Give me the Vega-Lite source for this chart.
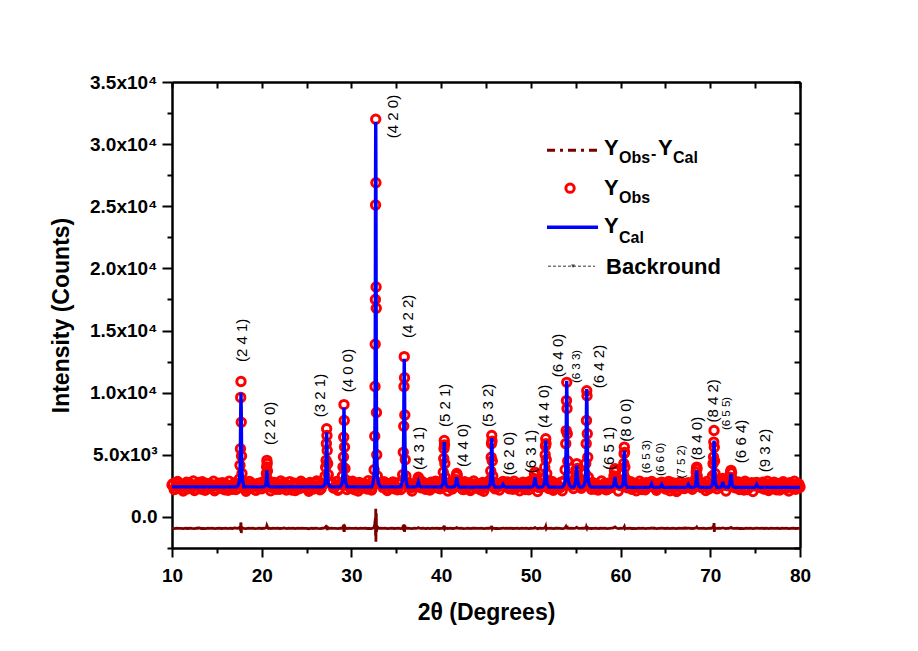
{
"$schema": "https://vega.github.io/schema/vega-lite/v6.json",
"width": 628, "height": 466,
"autosize": {"type": "none"},
"padding": {"left": 172, "top": 82, "right": 118, "bottom": 103},
"background": "white",
"config": {"view": {"stroke": null}, "font": "Liberation Sans"},
"datasets": {
"xrd": [
{"tt":10,"obs":2570,"cal":2420,"diff":-905},{"tt":10.25,"obs":2200,"cal":2420,"diff":-935},{"tt":10.5,"obs":2730,"cal":2420,"diff":-900},{"tt":10.75,"obs":2330,"cal":2420,"diff":-925},{"tt":11,"obs":2460,"cal":2420,"diff":-915},{"tt":11.25,"obs":2080,"cal":2420,"diff":-945},{"tt":11.5,"obs":2620,"cal":2420,"diff":-910},{"tt":11.75,"obs":2260,"cal":2420,"diff":-930},{"tt":12,"obs":2690,"cal":2420,"diff":-895},{"tt":12.25,"obs":2390,"cal":2420,"diff":-920},{"tt":12.5,"obs":2130,"cal":2420,"diff":-940},{"tt":12.75,"obs":2520,"cal":2420,"diff":-910},{"tt":13,"obs":2770,"cal":2420,"diff":-890},{"tt":13.25,"obs":2240,"cal":2420,"diff":-930},{"tt":13.5,"obs":2440,"cal":2420,"diff":-920},{"tt":13.75,"obs":2170,"cal":2420,"diff":-945},{"tt":14,"obs":2650,"cal":2420,"diff":-905},{"tt":14.25,"obs":2350,"cal":2420,"diff":-925},{"tt":14.5,"obs":2580,"cal":2420,"diff":-900},{"tt":14.75,"obs":2100,"cal":2420,"diff":-940},{"tt":15,"obs":2500,"cal":2420,"diff":-915},{"tt":15.25,"obs":2710,"cal":2420,"diff":-895},{"tt":15.5,"obs":2280,"cal":2420,"diff":-930},{"tt":15.75,"obs":2380,"cal":2420,"diff":-920},{"tt":16,"obs":2630,"cal":2420,"diff":-905},{"tt":16.25,"obs":2150,"cal":2420,"diff":-940},{"tt":16.5,"obs":2540,"cal":2420,"diff":-910},{"tt":16.75,"obs":2220,"cal":2420,"diff":-930},{"tt":17,"obs":2750,"cal":2420,"diff":-890},{"tt":17.25,"obs":2310,"cal":2420,"diff":-925},
{"tt":17.39,"obs":2650,"cal":2572,"diff":-900},{"tt":17.51,"obs":3050,"cal":2875,"diff":-880},{"tt":17.58,"obs":4150,"cal":3709,"diff":-800},{"tt":17.63,"obs":5490,"cal":5831,"diff":-1100},{"tt":17.66,"obs":9620,"cal":8484,"diff":-600},{"tt":17.69,"obs":10900,"cal":10000,"diff":-450},{"tt":17.72,"obs":7620,"cal":8484,"diff":-1300},{"tt":17.75,"obs":4900,"cal":5831,"diff":-1000},{"tt":17.8,"obs":3500,"cal":3709,"diff":-850},{"tt":17.87,"obs":2800,"cal":2875,"diff":-930},{"tt":17.99,"obs":2300,"cal":2572,"diff":-910},
{"tt":18,"obs":2480,"cal":2420,"diff":-915},{"tt":18.25,"obs":2060,"cal":2420,"diff":-940},{"tt":18.5,"obs":2600,"cal":2420,"diff":-905},{"tt":18.75,"obs":2370,"cal":2420,"diff":-925},{"tt":19,"obs":2670,"cal":2420,"diff":-900},{"tt":19.25,"obs":2190,"cal":2420,"diff":-935},{"tt":19.5,"obs":2430,"cal":2420,"diff":-920},{"tt":19.75,"obs":2720,"cal":2420,"diff":-895},{"tt":20,"obs":2270,"cal":2420,"diff":-930},{"tt":20.25,"obs":2510,"cal":2420,"diff":-910},
{"tt":20.28,"obs":2500,"cal":2447,"diff":-920},{"tt":20.4,"obs":2650,"cal":2500,"diff":-900},{"tt":20.47,"obs":2950,"cal":2646,"diff":-880},{"tt":20.52,"obs":3500,"cal":3019,"diff":-850},{"tt":20.55,"obs":4015,"cal":3484,"diff":-800},{"tt":20.58,"obs":4550,"cal":3750,"diff":-700},{"tt":20.61,"obs":4300,"cal":3484,"diff":-750},{"tt":20.64,"obs":3700,"cal":3019,"diff":-850},{"tt":20.69,"obs":3000,"cal":2646,"diff":-900},{"tt":20.76,"obs":2600,"cal":2500,"diff":-930},{"tt":20.88,"obs":2450,"cal":2447,"diff":-910},
{"tt":21,"obs":2110,"cal":2420,"diff":-935},{"tt":21.25,"obs":2590,"cal":2420,"diff":-905},{"tt":21.5,"obs":2340,"cal":2420,"diff":-920},{"tt":21.75,"obs":2680,"cal":2420,"diff":-900},{"tt":22,"obs":2230,"cal":2420,"diff":-930},{"tt":22.25,"obs":2450,"cal":2420,"diff":-915},{"tt":22.5,"obs":2760,"cal":2420,"diff":-890},{"tt":22.75,"obs":2160,"cal":2420,"diff":-940},{"tt":23,"obs":2530,"cal":2420,"diff":-910},{"tt":23.25,"obs":2400,"cal":2420,"diff":-920},{"tt":23.5,"obs":2640,"cal":2420,"diff":-900},{"tt":23.75,"obs":2120,"cal":2420,"diff":-945},{"tt":24,"obs":2560,"cal":2420,"diff":-905},{"tt":24.25,"obs":2300,"cal":2420,"diff":-925},{"tt":24.5,"obs":2700,"cal":2420,"diff":-895},{"tt":24.75,"obs":2360,"cal":2420,"diff":-920},{"tt":25,"obs":2470,"cal":2420,"diff":-915},{"tt":25.25,"obs":2070,"cal":2420,"diff":-950},{"tt":25.5,"obs":2610,"cal":2420,"diff":-905},{"tt":25.75,"obs":2250,"cal":2420,"diff":-930},{"tt":26,"obs":2740,"cal":2420,"diff":-895},{"tt":26.25,"obs":2410,"cal":2420,"diff":-920},{"tt":26.5,"obs":2180,"cal":2420,"diff":-935},{"tt":26.75,"obs":2550,"cal":2420,"diff":-910},
{"tt":26.94,"obs":2700,"cal":2508,"diff":-900},{"tt":27.06,"obs":3300,"cal":2684,"diff":-850},{"tt":27.13,"obs":3990,"cal":3168,"diff":-800},{"tt":27.18,"obs":4550,"cal":4400,"diff":-900},{"tt":27.21,"obs":5900,"cal":5940,"diff":-750},{"tt":27.24,"obs":7100,"cal":6820,"diff":-700},{"tt":27.27,"obs":6550,"cal":5940,"diff":-950},{"tt":27.3,"obs":5350,"cal":4400,"diff":-1050},{"tt":27.35,"obs":4300,"cal":3168,"diff":-900},{"tt":27.42,"obs":3400,"cal":2684,"diff":-880},{"tt":27.54,"obs":2750,"cal":2508,"diff":-920},
{"tt":27.75,"obs":2660,"cal":2420,"diff":-905},{"tt":28,"obs":2320,"cal":2420,"diff":-925},{"tt":28.25,"obs":2490,"cal":2420,"diff":-915},{"tt":28.5,"obs":2140,"cal":2420,"diff":-940},{"tt":28.75,"obs":2620,"cal":2420,"diff":-900},
{"tt":28.87,"obs":2700,"cal":2548,"diff":-920},{"tt":28.99,"obs":3300,"cal":2803,"diff":-880},{"tt":29.06,"obs":4010,"cal":3505,"diff":-850},{"tt":29.11,"obs":4820,"cal":5291,"diff":-700},{"tt":29.14,"obs":6420,"cal":7524,"diff":-1150},{"tt":29.17,"obs":9040,"cal":8800,"diff":-600},{"tt":29.2,"obs":7760,"cal":7524,"diff":-1200},{"tt":29.23,"obs":5620,"cal":5291,"diff":-900},{"tt":29.28,"obs":3900,"cal":3505,"diff":-800},{"tt":29.35,"obs":3000,"cal":2803,"diff":-900},{"tt":29.47,"obs":2550,"cal":2548,"diff":-920},
{"tt":29.5,"obs":2210,"cal":2420,"diff":-935},{"tt":29.75,"obs":2780,"cal":2420,"diff":-895},{"tt":30,"obs":2290,"cal":2420,"diff":-925},{"tt":30.25,"obs":2420,"cal":2420,"diff":-920},{"tt":30.5,"obs":2690,"cal":2420,"diff":-900},{"tt":30.75,"obs":2090,"cal":2420,"diff":-945},{"tt":31,"obs":2570,"cal":2420,"diff":-910},{"tt":31.25,"obs":2360,"cal":2420,"diff":-920},{"tt":31.5,"obs":2650,"cal":2420,"diff":-905},{"tt":31.75,"obs":2240,"cal":2420,"diff":-930},{"tt":32,"obs":2510,"cal":2420,"diff":-915},{"tt":32.25,"obs":2160,"cal":2420,"diff":-940},
{"tt":32.41,"obs":2900,"cal":2714,"diff":-900},{"tt":32.53,"obs":3800,"cal":3301,"diff":-800},{"tt":32.6,"obs":6500,"cal":5358,"diff":-600},{"tt":32.63,"obs":10500,"cal":8296,"diff":-300},{"tt":32.65,"obs":13900,"cal":12115,"diff":-400},{"tt":32.67,"obs":17500,"cal":18579,"diff":-100},{"tt":32.69,"obs":25100,"cal":27393,"diff":-1500},{"tt":32.71,"obs":32000,"cal":31800,"diff":650},{"tt":32.73,"obs":26900,"cal":27393,"diff":-2000},{"tt":32.75,"obs":18500,"cal":18579,"diff":-400},{"tt":32.77,"obs":16800,"cal":12115,"diff":300},{"tt":32.79,"obs":8400,"cal":8296,"diff":-1200},{"tt":32.82,"obs":5000,"cal":5358,"diff":-1000},{"tt":32.89,"obs":3300,"cal":3301,"diff":-800},{"tt":33.01,"obs":2700,"cal":2714,"diff":-920},
{"tt":33.25,"obs":2730,"cal":2420,"diff":-900},{"tt":33.5,"obs":2380,"cal":2420,"diff":-920},{"tt":33.75,"obs":2590,"cal":2420,"diff":-910},{"tt":34,"obs":2120,"cal":2420,"diff":-940},{"tt":34.25,"obs":2480,"cal":2420,"diff":-915},{"tt":34.5,"obs":2670,"cal":2420,"diff":-900},{"tt":34.75,"obs":2270,"cal":2420,"diff":-930},{"tt":35,"obs":2330,"cal":2420,"diff":-925},{"tt":35.25,"obs":2750,"cal":2420,"diff":-895},{"tt":35.5,"obs":2200,"cal":2420,"diff":-935},
{"tt":35.59,"obs":2800,"cal":2626,"diff":-920},{"tt":35.71,"obs":3400,"cal":3038,"diff":-880},{"tt":35.78,"obs":5200,"cal":4171,"diff":-700},{"tt":35.83,"obs":7300,"cal":7055,"diff":-1100},{"tt":35.86,"obs":10500,"cal":10660,"diff":-600},{"tt":35.89,"obs":12900,"cal":12720,"diff":-800},{"tt":35.92,"obs":11200,"cal":10660,"diff":-1200},{"tt":35.95,"obs":8200,"cal":7055,"diff":-700},{"tt":36,"obs":4600,"cal":4171,"diff":-850},{"tt":36.07,"obs":3300,"cal":3038,"diff":-900},{"tt":36.19,"obs":2600,"cal":2626,"diff":-920},
{"tt":36.25,"obs":2540,"cal":2420,"diff":-910},{"tt":36.5,"obs":2440,"cal":2420,"diff":-920},{"tt":36.75,"obs":2080,"cal":2420,"diff":-945},{"tt":37,"obs":2630,"cal":2420,"diff":-900},
{"tt":37.21,"obs":2500,"cal":2439,"diff":-920},{"tt":37.34,"obs":2800,"cal":2515,"diff":-910},{"tt":37.4,"obs":3000,"cal":2648,"diff":-880},{"tt":37.46,"obs":3200,"cal":2800,"diff":-860},{"tt":37.52,"obs":3050,"cal":2648,"diff":-890},{"tt":37.58,"obs":2750,"cal":2515,"diff":-910},{"tt":37.71,"obs":2450,"cal":2439,"diff":-920},
{"tt":37.75,"obs":2350,"cal":2420,"diff":-925},{"tt":38,"obs":2700,"cal":2420,"diff":-900},{"tt":38.25,"obs":2230,"cal":2420,"diff":-935},{"tt":38.5,"obs":2520,"cal":2420,"diff":-910},{"tt":38.75,"obs":2170,"cal":2420,"diff":-940},{"tt":39,"obs":2580,"cal":2420,"diff":-905},{"tt":39.25,"obs":2390,"cal":2420,"diff":-920},{"tt":39.5,"obs":2720,"cal":2420,"diff":-895},{"tt":39.75,"obs":2300,"cal":2420,"diff":-930},{"tt":40,"obs":2440,"cal":2400,"diff":-915},
{"tt":40.05,"obs":2600,"cal":2472,"diff":-920},{"tt":40.17,"obs":2950,"cal":2617,"diff":-900},{"tt":40.24,"obs":3600,"cal":3015,"diff":-850},{"tt":40.29,"obs":4700,"cal":4029,"diff":-900},{"tt":40.32,"obs":5500,"cal":5296,"diff":-800},{"tt":40.35,"obs":6150,"cal":6020,"diff":-700},{"tt":40.38,"obs":5800,"cal":5296,"diff":-850},{"tt":40.41,"obs":4300,"cal":4029,"diff":-950},{"tt":40.46,"obs":3200,"cal":3015,"diff":-900},{"tt":40.53,"obs":2700,"cal":2617,"diff":-920},{"tt":40.65,"obs":2450,"cal":2472,"diff":-910},
{"tt":40.75,"obs":2090,"cal":2400,"diff":-940},{"tt":41,"obs":2640,"cal":2400,"diff":-905},{"tt":41.25,"obs":2240,"cal":2400,"diff":-930},
{"tt":41.49,"obs":2550,"cal":2440,"diff":-920},{"tt":41.62,"obs":3000,"cal":2600,"diff":-900},{"tt":41.68,"obs":3300,"cal":2880,"diff":-880},{"tt":41.74,"obs":3500,"cal":3200,"diff":-860},{"tt":41.8,"obs":3350,"cal":2880,"diff":-880},{"tt":41.86,"obs":2950,"cal":2600,"diff":-900},{"tt":41.99,"obs":2500,"cal":2440,"diff":-920},
{"tt":42,"obs":2480,"cal":2400,"diff":-915},{"tt":42.25,"obs":2750,"cal":2400,"diff":-895},{"tt":42.5,"obs":2200,"cal":2400,"diff":-935},{"tt":42.75,"obs":2350,"cal":2400,"diff":-925},{"tt":43,"obs":2590,"cal":2400,"diff":-905},{"tt":43.25,"obs":2130,"cal":2400,"diff":-940},{"tt":43.5,"obs":2530,"cal":2400,"diff":-910},{"tt":43.75,"obs":2660,"cal":2400,"diff":-900},{"tt":44,"obs":2300,"cal":2400,"diff":-925},{"tt":44.25,"obs":2380,"cal":2400,"diff":-920},{"tt":44.5,"obs":2620,"cal":2400,"diff":-905},{"tt":44.75,"obs":2070,"cal":2400,"diff":-945},{"tt":45,"obs":2470,"cal":2400,"diff":-915},{"tt":45.25,"obs":2690,"cal":2400,"diff":-895},
{"tt":45.34,"obs":2550,"cal":2479,"diff":-910},{"tt":45.46,"obs":3000,"cal":2638,"diff":-900},{"tt":45.53,"obs":3700,"cal":3075,"diff":-860},{"tt":45.58,"obs":4800,"cal":4187,"diff":-880},{"tt":45.61,"obs":5900,"cal":5576,"diff":-800},{"tt":45.64,"obs":6550,"cal":6370,"diff":-720},{"tt":45.67,"obs":6100,"cal":5576,"diff":-860},{"tt":45.7,"obs":4500,"cal":4187,"diff":-960},{"tt":45.75,"obs":3300,"cal":3075,"diff":-900},{"tt":45.82,"obs":2700,"cal":2638,"diff":-920},{"tt":45.94,"obs":2500,"cal":2479,"diff":-915},
{"tt":46,"obs":2260,"cal":2400,"diff":-930},{"tt":46.25,"obs":2410,"cal":2400,"diff":-920},{"tt":46.5,"obs":2170,"cal":2400,"diff":-935},
{"tt":46.65,"obs":2500,"cal":2410,"diff":-920},{"tt":46.78,"obs":2700,"cal":2450,"diff":-915},{"tt":46.84,"obs":2800,"cal":2520,"diff":-905},{"tt":46.9,"obs":2850,"cal":2600,"diff":-900},{"tt":46.96,"obs":2750,"cal":2520,"diff":-905},{"tt":47.02,"obs":2600,"cal":2450,"diff":-915},{"tt":47.15,"obs":2450,"cal":2410,"diff":-920},
{"tt":47.25,"obs":2580,"cal":2400,"diff":-905},{"tt":47.5,"obs":2320,"cal":2400,"diff":-925},{"tt":47.75,"obs":2720,"cal":2400,"diff":-895},{"tt":48,"obs":2220,"cal":2400,"diff":-930},{"tt":48.25,"obs":2450,"cal":2400,"diff":-915},{"tt":48.5,"obs":2640,"cal":2400,"diff":-900},{"tt":48.75,"obs":2110,"cal":2400,"diff":-940},{"tt":49,"obs":2550,"cal":2400,"diff":-910},{"tt":49.25,"obs":2360,"cal":2400,"diff":-920},{"tt":49.5,"obs":2670,"cal":2400,"diff":-900},{"tt":49.75,"obs":2190,"cal":2400,"diff":-935},{"tt":50,"obs":2510,"cal":2400,"diff":-910},
{"tt":50.21,"obs":2650,"cal":2440,"diff":-920},{"tt":50.34,"obs":3100,"cal":2600,"diff":-900},{"tt":50.4,"obs":3450,"cal":2880,"diff":-870},{"tt":50.46,"obs":3610,"cal":3200,"diff":-850},{"tt":50.52,"obs":3400,"cal":2880,"diff":-880},{"tt":50.58,"obs":2950,"cal":2600,"diff":-905},{"tt":50.71,"obs":2550,"cal":2440,"diff":-920},
{"tt":50.75,"obs":2050,"cal":2400,"diff":-945},{"tt":51,"obs":2600,"cal":2400,"diff":-905},{"tt":51.25,"obs":2430,"cal":2400,"diff":-920},
{"tt":51.36,"obs":2650,"cal":2475,"diff":-920},{"tt":51.48,"obs":3100,"cal":2625,"diff":-890},{"tt":51.55,"obs":4000,"cal":3038,"diff":-850},{"tt":51.6,"obs":5000,"cal":4088,"diff":-880},{"tt":51.63,"obs":5700,"cal":5400,"diff":-820},{"tt":51.66,"obs":6290,"cal":6150,"diff":-760},{"tt":51.69,"obs":5900,"cal":5400,"diff":-870},{"tt":51.72,"obs":4600,"cal":4088,"diff":-950},{"tt":51.77,"obs":3500,"cal":3038,"diff":-900},{"tt":51.84,"obs":2800,"cal":2625,"diff":-910},{"tt":51.96,"obs":2500,"cal":2475,"diff":-920},
{"tt":52,"obs":2280,"cal":2400,"diff":-925},{"tt":52.25,"obs":2710,"cal":2400,"diff":-900},{"tt":52.5,"obs":2140,"cal":2400,"diff":-935},{"tt":52.75,"obs":2490,"cal":2400,"diff":-910},{"tt":53,"obs":2560,"cal":2400,"diff":-905},{"tt":53.25,"obs":2340,"cal":2400,"diff":-920},{"tt":53.5,"obs":2100,"cal":2400,"diff":-940},
{"tt":53.7,"obs":2900,"cal":2571,"diff":-920},{"tt":53.82,"obs":3800,"cal":2914,"diff":-880},{"tt":53.89,"obs":5900,"cal":3855,"diff":-800},{"tt":53.94,"obs":6950,"cal":6252,"diff":-950},{"tt":53.97,"obs":9360,"cal":9248,"diff":-750},{"tt":54,"obs":10830,"cal":10960,"diff":-850},{"tt":54.03,"obs":8720,"cal":9248,"diff":-700},{"tt":54.06,"obs":6700,"cal":6252,"diff":-1000},{"tt":54.11,"obs":4500,"cal":3855,"diff":-880},{"tt":54.18,"obs":3300,"cal":2914,"diff":-900},{"tt":54.3,"obs":2600,"cal":2571,"diff":-920},
{"tt":54.5,"obs":2630,"cal":2400,"diff":-905},{"tt":54.75,"obs":2290,"cal":2400,"diff":-925},
{"tt":54.86,"obs":2700,"cal":2488,"diff":-920},{"tt":54.99,"obs":3200,"cal":2838,"diff":-890},{"tt":55.05,"obs":3800,"cal":3450,"diff":-860},{"tt":55.11,"obs":4290,"cal":4150,"diff":-830},{"tt":55.17,"obs":3900,"cal":3450,"diff":-870},{"tt":55.23,"obs":3300,"cal":2838,"diff":-900},{"tt":55.36,"obs":2650,"cal":2488,"diff":-920},
{"tt":55.5,"obs":2460,"cal":2400,"diff":-915},{"tt":55.75,"obs":2740,"cal":2400,"diff":-895},
{"tt":55.93,"obs":2700,"cal":2558,"diff":-910},{"tt":56.05,"obs":3500,"cal":2874,"diff":-880},{"tt":56.12,"obs":4300,"cal":3743,"diff":-850},{"tt":56.17,"obs":5900,"cal":5955,"diff":-900},{"tt":56.2,"obs":7760,"cal":8720,"diff":-800},{"tt":56.23,"obs":10160,"cal":10300,"diff":-850},{"tt":56.26,"obs":9760,"cal":8720,"diff":-750},{"tt":56.29,"obs":6700,"cal":5955,"diff":-900},{"tt":56.34,"obs":4800,"cal":3743,"diff":-880},{"tt":56.41,"obs":3200,"cal":2874,"diff":-920},{"tt":56.53,"obs":2550,"cal":2558,"diff":-915},
{"tt":56.75,"obs":2230,"cal":2400,"diff":-930},{"tt":57,"obs":2400,"cal":2400,"diff":-920},{"tt":57.25,"obs":2650,"cal":2400,"diff":-900},{"tt":57.5,"obs":2160,"cal":2400,"diff":-935},{"tt":57.75,"obs":2520,"cal":2400,"diff":-910},{"tt":58,"obs":2310,"cal":2400,"diff":-925},{"tt":58.25,"obs":2700,"cal":2400,"diff":-895},{"tt":58.5,"obs":2200,"cal":2400,"diff":-935},{"tt":58.75,"obs":2440,"cal":2400,"diff":-915},{"tt":59,"obs":2590,"cal":2400,"diff":-905},
{"tt":59.13,"obs":2700,"cal":2441,"diff":-900},{"tt":59.26,"obs":3300,"cal":2603,"diff":-850},{"tt":59.32,"obs":3700,"cal":2886,"diff":-820},{"tt":59.38,"obs":3890,"cal":3210,"diff":-800},{"tt":59.44,"obs":3650,"cal":2886,"diff":-830},{"tt":59.5,"obs":3100,"cal":2603,"diff":-870},{"tt":59.63,"obs":2600,"cal":2441,"diff":-910},
{"tt":59.75,"obs":2080,"cal":2400,"diff":-940},{"tt":60,"obs":2520,"cal":2390,"diff":-910},
{"tt":60.12,"obs":2550,"cal":2449,"diff":-920},{"tt":60.24,"obs":2900,"cal":2568,"diff":-900},{"tt":60.31,"obs":3500,"cal":2893,"diff":-880},{"tt":60.36,"obs":4300,"cal":3722,"diff":-870},{"tt":60.39,"obs":5100,"cal":4758,"diff":-820},{"tt":60.42,"obs":5620,"cal":5350,"diff":-780},{"tt":60.45,"obs":5200,"cal":4758,"diff":-880},{"tt":60.48,"obs":4000,"cal":3722,"diff":-940},{"tt":60.53,"obs":3100,"cal":2893,"diff":-910},{"tt":60.6,"obs":2650,"cal":2568,"diff":-920},{"tt":60.72,"obs":2450,"cal":2449,"diff":-915},
{"tt":60.75,"obs":2350,"cal":2380,"diff":-925},{"tt":61,"obs":2660,"cal":2380,"diff":-900},{"tt":61.25,"obs":2230,"cal":2380,"diff":-930},{"tt":61.5,"obs":2460,"cal":2380,"diff":-915},{"tt":61.75,"obs":2110,"cal":2380,"diff":-940},{"tt":62,"obs":2590,"cal":2380,"diff":-905},{"tt":62.25,"obs":2330,"cal":2380,"diff":-920},{"tt":62.5,"obs":2710,"cal":2380,"diff":-895},{"tt":62.75,"obs":2190,"cal":2380,"diff":-935},{"tt":63,"obs":2400,"cal":2380,"diff":-915},
{"tt":63.22,"obs":2500,"cal":2394,"diff":-920},{"tt":63.35,"obs":2700,"cal":2448,"diff":-910},{"tt":63.41,"obs":2800,"cal":2542,"diff":-900},{"tt":63.47,"obs":2850,"cal":2650,"diff":-890},{"tt":63.53,"obs":2780,"cal":2542,"diff":-900},{"tt":63.59,"obs":2650,"cal":2448,"diff":-910},{"tt":63.72,"obs":2450,"cal":2394,"diff":-920},
{"tt":63.75,"obs":2640,"cal":2380,"diff":-900},{"tt":64,"obs":2150,"cal":2380,"diff":-935},{"tt":64.25,"obs":2480,"cal":2380,"diff":-915},
{"tt":64.34,"obs":2450,"cal":2391,"diff":-920},{"tt":64.47,"obs":2650,"cal":2435,"diff":-912},{"tt":64.53,"obs":2750,"cal":2512,"diff":-905},{"tt":64.59,"obs":2800,"cal":2600,"diff":-898},{"tt":64.65,"obs":2700,"cal":2512,"diff":-905},{"tt":64.71,"obs":2600,"cal":2435,"diff":-912},{"tt":64.84,"obs":2400,"cal":2391,"diff":-920},
{"tt":65,"obs":2250,"cal":2380,"diff":-930},{"tt":65.25,"obs":2670,"cal":2380,"diff":-900},{"tt":65.5,"obs":2100,"cal":2380,"diff":-940},{"tt":65.75,"obs":2550,"cal":2380,"diff":-910},{"tt":66,"obs":2390,"cal":2380,"diff":-920},{"tt":66.25,"obs":2040,"cal":2380,"diff":-945},{"tt":66.5,"obs":2600,"cal":2380,"diff":-905},{"tt":66.75,"obs":2310,"cal":2380,"diff":-925},{"tt":67,"obs":2530,"cal":2380,"diff":-910},{"tt":67.25,"obs":2690,"cal":2380,"diff":-895},
{"tt":67.3,"obs":2480,"cal":2391,"diff":-920},{"tt":67.43,"obs":2600,"cal":2435,"diff":-912},{"tt":67.49,"obs":2700,"cal":2512,"diff":-905},{"tt":67.55,"obs":2750,"cal":2600,"diff":-898},{"tt":67.61,"obs":2680,"cal":2512,"diff":-905},{"tt":67.67,"obs":2550,"cal":2435,"diff":-912},{"tt":67.8,"obs":2420,"cal":2391,"diff":-920},
{"tt":68,"obs":2220,"cal":2380,"diff":-930},
{"tt":68.19,"obs":2500,"cal":2407,"diff":-920},{"tt":68.31,"obs":2750,"cal":2462,"diff":-900},{"tt":68.38,"obs":3100,"cal":2613,"diff":-890},{"tt":68.43,"obs":3600,"cal":2997,"diff":-870},{"tt":68.46,"obs":3900,"cal":3476,"diff":-850},{"tt":68.49,"obs":4010,"cal":3750,"diff":-820},{"tt":68.52,"obs":3850,"cal":3476,"diff":-860},{"tt":68.55,"obs":3300,"cal":2997,"diff":-900},{"tt":68.6,"obs":2850,"cal":2613,"diff":-910},{"tt":68.67,"obs":2600,"cal":2462,"diff":-920},{"tt":68.79,"obs":2450,"cal":2407,"diff":-915},
{"tt":69,"obs":2360,"cal":2380,"diff":-920},{"tt":69.25,"obs":2620,"cal":2380,"diff":-905},{"tt":69.5,"obs":2130,"cal":2380,"diff":-935},{"tt":69.75,"obs":2440,"cal":2380,"diff":-915},{"tt":70,"obs":2580,"cal":2380,"diff":-905},
{"tt":70.12,"obs":2700,"cal":2455,"diff":-920},{"tt":70.24,"obs":3300,"cal":2606,"diff":-880},{"tt":70.31,"obs":4290,"cal":3021,"diff":-800},{"tt":70.36,"obs":4820,"cal":4077,"diff":-900},{"tt":70.39,"obs":6020,"cal":5396,"diff":-750},{"tt":70.42,"obs":6960,"cal":6150,"diff":-500},{"tt":70.45,"obs":5600,"cal":5396,"diff":-1200},{"tt":70.48,"obs":4500,"cal":4077,"diff":-850},{"tt":70.53,"obs":3500,"cal":3021,"diff":-880},{"tt":70.6,"obs":2800,"cal":2606,"diff":-910},{"tt":70.72,"obs":2500,"cal":2455,"diff":-920},
{"tt":70.75,"obs":2270,"cal":2380,"diff":-925},{"tt":71,"obs":2730,"cal":2380,"diff":-895},
{"tt":71.14,"obs":2600,"cal":2402,"diff":-920},{"tt":71.27,"obs":2850,"cal":2488,"diff":-905},{"tt":71.33,"obs":3000,"cal":2638,"diff":-890},{"tt":71.39,"obs":3100,"cal":2810,"diff":-880},{"tt":71.45,"obs":3000,"cal":2638,"diff":-890},{"tt":71.51,"obs":2800,"cal":2488,"diff":-905},{"tt":71.64,"obs":2550,"cal":2402,"diff":-920},
{"tt":71.75,"obs":2080,"cal":2380,"diff":-940},{"tt":72,"obs":2510,"cal":2380,"diff":-910},
{"tt":72.06,"obs":2700,"cal":2435,"diff":-915},{"tt":72.19,"obs":3200,"cal":2655,"diff":-890},{"tt":72.25,"obs":3600,"cal":3040,"diff":-860},{"tt":72.31,"obs":3750,"cal":3480,"diff":-840},{"tt":72.37,"obs":3550,"cal":3040,"diff":-870},{"tt":72.43,"obs":3100,"cal":2655,"diff":-900},{"tt":72.56,"obs":2650,"cal":2435,"diff":-920},
{"tt":72.75,"obs":2340,"cal":2380,"diff":-920},{"tt":73,"obs":2650,"cal":2380,"diff":-900},{"tt":73.25,"obs":2200,"cal":2380,"diff":-930},{"tt":73.5,"obs":2470,"cal":2380,"diff":-915},{"tt":73.75,"obs":2160,"cal":2380,"diff":-935},{"tt":74,"obs":2700,"cal":2380,"diff":-895},{"tt":74.25,"obs":2320,"cal":2380,"diff":-925},{"tt":74.5,"obs":2560,"cal":2380,"diff":-905},{"tt":74.75,"obs":2050,"cal":2380,"diff":-945},
{"tt":74.93,"obs":2500,"cal":2391,"diff":-920},{"tt":75.06,"obs":2650,"cal":2435,"diff":-912},{"tt":75.12,"obs":2750,"cal":2512,"diff":-905},{"tt":75.18,"obs":2780,"cal":2600,"diff":-900},{"tt":75.24,"obs":2700,"cal":2512,"diff":-905},{"tt":75.3,"obs":2600,"cal":2435,"diff":-912},{"tt":75.43,"obs":2450,"cal":2391,"diff":-920},
{"tt":75.5,"obs":2430,"cal":2380,"diff":-915},{"tt":75.75,"obs":2610,"cal":2380,"diff":-905},{"tt":76,"obs":2240,"cal":2380,"diff":-930},{"tt":76.25,"obs":2490,"cal":2380,"diff":-910},{"tt":76.5,"obs":2120,"cal":2380,"diff":-940},{"tt":76.75,"obs":2660,"cal":2380,"diff":-900},{"tt":77,"obs":2290,"cal":2380,"diff":-925},{"tt":77.25,"obs":2410,"cal":2380,"diff":-920},{"tt":77.5,"obs":2530,"cal":2380,"diff":-910},{"tt":77.75,"obs":2160,"cal":2380,"diff":-935},{"tt":78,"obs":2690,"cal":2380,"diff":-895},{"tt":78.25,"obs":2340,"cal":2380,"diff":-920},{"tt":78.5,"obs":2550,"cal":2380,"diff":-905},{"tt":78.75,"obs":2080,"cal":2380,"diff":-940},{"tt":79,"obs":2440,"cal":2380,"diff":-915},{"tt":79.25,"obs":2630,"cal":2380,"diff":-900},{"tt":79.5,"obs":2230,"cal":2380,"diff":-930},{"tt":79.75,"obs":2290,"cal":2380,"diff":-925},{"tt":80,"obs":2400,"cal":2380,"diff":-915}
],
"obs_fill": [
{"tt":10.125,"obs":2680},{"tt":10.375,"obs":2240},{"tt":10.625,"obs":2850},{"tt":10.875,"obs":2390},{"tt":11.125,"obs":2560},{"tt":11.375,"obs":2180},{"tt":11.625,"obs":2790},{"tt":11.875,"obs":2450},{"tt":12.125,"obs":2300},{"tt":12.375,"obs":2900},{"tt":12.625,"obs":2210},{"tt":12.875,"obs":2620},{"tt":13.125,"obs":2480},{"tt":13.375,"obs":2830},{"tt":13.625,"obs":2160},{"tt":13.875,"obs":2700},{"tt":14.125,"obs":2350},{"tt":14.375,"obs":2590},{"tt":14.625,"obs":2880},{"tt":14.875,"obs":2270},{"tt":15.125,"obs":2640},{"tt":15.375,"obs":2420},{"tt":15.625,"obs":2760},{"tt":15.875,"obs":2190},{"tt":16.125,"obs":2530},{"tt":16.375,"obs":2870},{"tt":16.625,"obs":2330},{"tt":16.875,"obs":2610},{"tt":17.125,"obs":2200},
{"tt":18.125,"obs":2740},{"tt":18.375,"obs":2290},{"tt":18.625,"obs":2860},{"tt":18.875,"obs":2410},{"tt":19.125,"obs":2570},{"tt":19.375,"obs":2150},{"tt":19.625,"obs":2690},{"tt":19.875,"obs":2470},{"tt":20.125,"obs":2810},
{"tt":21.125,"obs":2360},{"tt":21.375,"obs":2780},{"tt":21.625,"obs":2230},{"tt":21.875,"obs":2550},{"tt":22.125,"obs":2890},{"tt":22.375,"obs":2310},{"tt":22.625,"obs":2620},{"tt":22.875,"obs":2440},{"tt":23.125,"obs":2840},{"tt":23.375,"obs":2170},{"tt":23.625,"obs":2710},{"tt":23.875,"obs":2500},{"tt":24.125,"obs":2260},{"tt":24.375,"obs":2880},{"tt":24.625,"obs":2400},{"tt":24.875,"obs":2650},{"tt":25.125,"obs":2220},{"tt":25.375,"obs":2770},{"tt":25.625,"obs":2480},{"tt":25.875,"obs":2340},{"tt":26.125,"obs":2900},{"tt":26.375,"obs":2590},{"tt":26.625,"obs":2280},
{"tt":27.875,"obs":2730},{"tt":28.125,"obs":2410},{"tt":28.375,"obs":2850},{"tt":28.625,"obs":2240},
{"tt":29.625,"obs":2600},{"tt":29.875,"obs":2330},{"tt":30.125,"obs":2870},{"tt":30.375,"obs":2190},{"tt":30.625,"obs":2540},{"tt":30.875,"obs":2780},{"tt":31.125,"obs":2300},{"tt":31.375,"obs":2690},{"tt":31.625,"obs":2450},{"tt":31.875,"obs":2910},{"tt":32.125,"obs":2270},
{"tt":33.375,"obs":2560},{"tt":33.625,"obs":2840},{"tt":33.875,"obs":2250},{"tt":34.125,"obs":2680},{"tt":34.375,"obs":2390},{"tt":34.625,"obs":2820},{"tt":34.875,"obs":2500},{"tt":35.125,"obs":2180},{"tt":35.375,"obs":2630},
{"tt":36.375,"obs":2760},{"tt":36.625,"obs":2320},{"tt":36.875,"obs":2590},
{"tt":37.875,"obs":2850},{"tt":38.125,"obs":2440},{"tt":38.375,"obs":2670},{"tt":38.625,"obs":2210},{"tt":38.875,"obs":2790},{"tt":39.125,"obs":2350},{"tt":39.375,"obs":2880},{"tt":39.625,"obs":2520},{"tt":39.875,"obs":2260},
{"tt":40.875,"obs":2710},{"tt":41.125,"obs":2380},
{"tt":42.125,"obs":2600},{"tt":42.375,"obs":2230},{"tt":42.625,"obs":2830},{"tt":42.875,"obs":2470},{"tt":43.125,"obs":2740},{"tt":43.375,"obs":2290},{"tt":43.625,"obs":2900},{"tt":43.875,"obs":2410},{"tt":44.125,"obs":2640},{"tt":44.375,"obs":2180},{"tt":44.625,"obs":2780},{"tt":44.875,"obs":2350},{"tt":45.125,"obs":2560},
{"tt":46.125,"obs":2720},{"tt":46.375,"obs":2470},
{"tt":47.375,"obs":2810},{"tt":47.625,"obs":2260},{"tt":47.875,"obs":2590},{"tt":48.125,"obs":2870},{"tt":48.375,"obs":2330},{"tt":48.625,"obs":2690},{"tt":48.875,"obs":2450},{"tt":49.125,"obs":2800},{"tt":49.375,"obs":2200},{"tt":49.625,"obs":2610},{"tt":49.875,"obs":2860},
{"tt":50.875,"obs":2380},{"tt":51.125,"obs":2740},
{"tt":52.125,"obs":2500},{"tt":52.375,"obs":2850},{"tt":52.625,"obs":2290},{"tt":52.875,"obs":2660},{"tt":53.125,"obs":2430},{"tt":53.375,"obs":2800},
{"tt":54.625,"obs":2560},{"tt":55.625,"obs":2300},
{"tt":56.875,"obs":2770},{"tt":57.125,"obs":2240},{"tt":57.375,"obs":2620},{"tt":57.625,"obs":2380},{"tt":57.875,"obs":2890},{"tt":58.125,"obs":2460},{"tt":58.375,"obs":2180},{"tt":58.625,"obs":2710},{"tt":58.875,"obs":2350},
{"tt":59.875,"obs":2680},
{"tt":60.875,"obs":2520},{"tt":61.125,"obs":2840},{"tt":61.375,"obs":2290},{"tt":61.625,"obs":2650},{"tt":61.875,"obs":2420},{"tt":62.125,"obs":2880},{"tt":62.375,"obs":2210},{"tt":62.625,"obs":2560},{"tt":62.875,"obs":2750},
{"tt":63.875,"obs":2330},{"tt":64.125,"obs":2700},
{"tt":65.125,"obs":2580},{"tt":65.375,"obs":2860},{"tt":65.625,"obs":2320},{"tt":65.875,"obs":2730},{"tt":66.125,"obs":2450},{"tt":66.375,"obs":2190},{"tt":66.625,"obs":2800},{"tt":66.875,"obs":2500},{"tt":67.125,"obs":2280},
{"tt":69.125,"obs":2740},{"tt":69.375,"obs":2420},{"tt":69.625,"obs":2850},{"tt":69.875,"obs":2270},
{"tt":70.875,"obs":2560},{"tt":71.875,"obs":2690},
{"tt":72.875,"obs":2480},{"tt":73.125,"obs":2820},{"tt":73.375,"obs":2300},{"tt":73.625,"obs":2660},{"tt":73.875,"obs":2880},{"tt":74.125,"obs":2200},{"tt":74.375,"obs":2590},{"tt":74.625,"obs":2760},
{"tt":75.625,"obs":2340},{"tt":75.875,"obs":2800},{"tt":76.125,"obs":2470},{"tt":76.375,"obs":2870},{"tt":76.625,"obs":2250},{"tt":76.875,"obs":2620},{"tt":77.125,"obs":2790},{"tt":77.375,"obs":2180},{"tt":77.625,"obs":2700},{"tt":77.875,"obs":2440},{"tt":78.125,"obs":2830},{"tt":78.375,"obs":2270},{"tt":78.625,"obs":2600},{"tt":78.875,"obs":2760},{"tt":79.125,"obs":2340},{"tt":79.375,"obs":2880},{"tt":79.625,"obs":2490},{"tt":79.875,"obs":2650}
],
"bg": [{"tt":10,"bg":2380},{"tt":20,"bg":2390},{"tt":30,"bg":2400},{"tt":40,"bg":2390},{"tt":50,"bg":2380},{"tt":60,"bg":2370},{"tt":70,"bg":2360},{"tt":80,"bg":2350}],
"hkl": [
{"tt":17.77,"y":12460,"hkl":"(2 4 1)"},{"tt":20.92,"y":5780,"hkl":"(2 2 0)"},{"tt":26.5,"y":8030,"hkl":"(3 2 1)"},{"tt":29.59,"y":10040,"hkl":"(4 0 0)"},{"tt":34.67,"y":30480,"hkl":"(4 2 0)"},{"tt":36.31,"y":14390,"hkl":"(4 2 2)"},{"tt":37.53,"y":3770,"hkl":"(4 3 1)"},{"tt":40.43,"y":7230,"hkl":"(5 2 1)"},{"tt":42.4,"y":4010,"hkl":"(4 4 0)"},{"tt":45.26,"y":7230,"hkl":"(5 3 2)"},{"tt":47.6,"y":3360,"hkl":"(6 2 0)"},{"tt":50.02,"y":3520,"hkl":"(6 3 1)"},{"tt":51.47,"y":7150,"hkl":"(4 4 0)"},{"tt":53.06,"y":11250,"hkl":"(6 4 0)"},{"tt":57.63,"y":10360,"hkl":"(6 4 2)"},{"tt":58.66,"y":3770,"hkl":"(6 5 1)"},{"tt":60.61,"y":6050,"hkl":"(8 0 0)"},{"tt":68.52,"y":4570,"hkl":"(8 4 0)"},{"tt":70.25,"y":7600,"hkl":"(8 4 2)"},{"tt":73.43,"y":4330,"hkl":"(6 6 4)"},{"tt":76.1,"y":3600,"hkl":"(9 3 2)"}
],
"hkl_small": [
{"tt":55.11,"y":10770,"hkl":"(6 3 3)"},{"tt":63.0,"y":3520,"hkl":"(6 5 3)"},{"tt":64.51,"y":3300,"hkl":"(6 6 0)"},{"tt":66.85,"y":3100,"hkl":"(7 5 2)"},{"tt":71.87,"y":6990,"hkl":"(6 5 5)"}
],
"leg_lines": [
{"series":"diff","tt":51.8,"y":29513},{"series":"diff","tt":57.49,"y":29513},
{"series":"cal","tt":51.8,"y":23317},{"series":"cal","tt":57.49,"y":23317},
{"series":"bg","tt":51.91,"y":20179},{"series":"bg","tt":57.15,"y":20179}
],
"leg_pts": [{"series":"obs","tt":54.37,"y":26455},{"series":"bg","tt":54.7,"y":20179}],
"leg_big": [
{"tt":58.16,"y":29111,"label":"Y"},{"tt":64.17,"y":29111,"label":"Y"},{"tt":58.16,"y":25892,"label":"Y"},{"tt":58.16,"y":22834,"label":"Y"},{"tt":58.38,"y":19536,"label":"Backround"}
],
"leg_sub": [
{"tt":59.83,"y":28468,"label":"Obs"},{"tt":63.39,"y":28790,"label":"-"},{"tt":65.85,"y":28468,"label":"Cal"},{"tt":59.83,"y":25248,"label":"Obs"},{"tt":59.83,"y":22030,"label":"Cal"}
]
},
"encoding": {
 "x": {"field": "tt", "type": "quantitative", "scale": {"domain": [10, 80], "nice": false, "zero": false}, "axis": null},
 "y": {"type": "quantitative", "scale": {"domain": [-2500, 35000], "nice": false, "zero": false}, "axis": null}
},
"layer": [
{"data": {"name": "bg"},
 "mark": {"type": "line", "color": "black", "strokeWidth": 0.8, "strokeDash": [3, 2]},
 "encoding": {
  "x": {"field": "tt", "type": "quantitative",
   "axis": {"orient": "top", "values": [10,15,20,25,30,35,40,45,50,55,60,65,70,75,80], "labels": false, "title": null, "grid": false, "ticks": true, "tickSize": -6, "tickWidth": 2, "tickColor": "black", "domainColor": "black", "domainWidth": 2.5}},
  "y": {"field": "bg", "type": "quantitative",
   "axis": {"orient": "right", "values": [-2500,0,2500,5000,7500,10000,12500,15000,17500,20000,22500,25000,27500,30000,32500,35000], "labels": false, "title": null, "grid": false, "ticks": true, "tickSize": -6, "tickWidth": 2, "tickColor": "black", "domainColor": "black", "domainWidth": 2.5}}
 }},
{"data": {"name": "bg"},
 "mark": {"type": "point", "shape": "triangle-down", "filled": true, "color": "black", "size": 16},
 "encoding": {"y": {"field": "bg", "type": "quantitative"}}},
{"data": {"name": "obs_fill"},
 "mark": {"type": "point", "shape": "circle", "filled": false, "color": "#FF0000", "size": 70, "strokeWidth": 3, "opacity": 1},
 "encoding": {"y": {"field": "obs", "type": "quantitative"}}},
{"data": {"name": "xrd"},
 "mark": {"type": "point", "shape": "circle", "filled": false, "color": "#FF0000", "size": 70, "strokeWidth": 3, "opacity": 1},
 "encoding": {
  "x": {"field": "tt", "type": "quantitative",
   "axis": {"orient": "bottom", "values": [10,15,20,25,30,35,40,45,50,55,60,65,70,75,80],
    "labelExpr": "datum.value % 10 === 0 ? format(datum.value, 'd') : ''",
    "tickSize": {"condition": {"test": "datum.value % 10 === 0", "value": 9}, "value": 5},
    "tickWidth": 2, "tickColor": "black", "domainColor": "black", "domainWidth": 2.5, "grid": false,
    "labelFont": "Liberation Sans", "labelFontSize": 19, "labelFontWeight": "bold", "labelColor": "black", "labelPadding": 9, "labelOverlap": false, "labelFlush": false,
    "title": "2θ (Degrees)", "titleFont": "Liberation Sans", "titleFontSize": 23, "titleFontWeight": "bold", "titleColor": "black", "titlePadding": 16}},
  "y": {"field": "obs", "type": "quantitative",
   "axis": {"orient": "left", "values": [-2500,0,2500,5000,7500,10000,12500,15000,17500,20000,22500,25000,27500,30000,32500,35000],
    "labelExpr": "datum.value % 5000 !== 0 ? '' : (datum.value === 0 ? '0.0' : (datum.value < 10000 ? format(datum.value / 1000, '.1f') + 'x10³' : format(datum.value / 10000, '.1f') + 'x10⁴'))",
    "tickSize": {"condition": {"test": "datum.value % 5000 === 0", "value": 10}, "value": 5},
    "tickWidth": 2, "tickColor": "black", "domainColor": "black", "domainWidth": 2.5, "grid": false,
    "labelFont": "Liberation Sans", "labelFontSize": 19, "labelFontWeight": "bold", "labelColor": "black", "labelPadding": 5, "labelOverlap": false, "labelFlush": false,
    "title": "Intensity (Counts)", "titleFont": "Liberation Sans", "titleFontSize": 23, "titleFontWeight": "bold", "titleColor": "black", "titlePadding": 16}}
 }},
{"data": {"name": "xrd"},
 "mark": {"type": "line", "color": "#0000FF", "strokeWidth": 3.4},
 "encoding": {"y": {"field": "cal", "type": "quantitative"}}},
{"data": {"name": "xrd"},
 "mark": {"type": "line", "color": "#7A0000", "strokeWidth": 2.8},
 "encoding": {"y": {"field": "diff", "type": "quantitative"}}},
{"data": {"name": "hkl"},
 "mark": {"type": "text", "angle": 270, "align": "left", "baseline": "middle", "font": "Liberation Sans", "fontSize": 15, "color": "black"},
 "encoding": {"y": {"field": "y", "type": "quantitative"}, "text": {"field": "hkl"}}},
{"data": {"name": "hkl_small"},
 "mark": {"type": "text", "angle": 270, "align": "left", "baseline": "middle", "font": "Liberation Sans", "fontSize": 11.5, "color": "black"},
 "encoding": {"y": {"field": "y", "type": "quantitative"}, "text": {"field": "hkl"}}},
{"data": {"name": "leg_lines"},
 "transform": [{"filter": "datum.series === 'diff'"}],
 "mark": {"type": "line", "color": "#7A0000", "strokeWidth": 3, "strokeDash": [8, 5, 3, 5]},
 "encoding": {"y": {"field": "y", "type": "quantitative"}}},
{"data": {"name": "leg_lines"},
 "transform": [{"filter": "datum.series === 'cal'"}],
 "mark": {"type": "line", "color": "#0000FF", "strokeWidth": 3.4},
 "encoding": {"y": {"field": "y", "type": "quantitative"}}},
{"data": {"name": "leg_lines"},
 "transform": [{"filter": "datum.series === 'bg'"}],
 "mark": {"type": "line", "color": "black", "strokeWidth": 0.8, "strokeDash": [3, 2]},
 "encoding": {"y": {"field": "y", "type": "quantitative"}}},
{"data": {"name": "leg_pts"},
 "transform": [{"filter": "datum.series === 'obs'"}],
 "mark": {"type": "point", "shape": "circle", "filled": false, "color": "#FF0000", "size": 70, "strokeWidth": 3, "opacity": 1},
 "encoding": {"y": {"field": "y", "type": "quantitative"}}},
{"data": {"name": "leg_pts"},
 "transform": [{"filter": "datum.series === 'bg'"}],
 "mark": {"type": "point", "shape": "triangle-down", "filled": true, "color": "black", "size": 16},
 "encoding": {"y": {"field": "y", "type": "quantitative"}}},
{"data": {"name": "leg_big"},
 "mark": {"type": "text", "align": "left", "baseline": "alphabetic", "font": "Liberation Sans", "fontSize": 22, "fontWeight": "bold", "color": "black"},
 "encoding": {"y": {"field": "y", "type": "quantitative"}, "text": {"field": "label"}}},
{"data": {"name": "leg_sub"},
 "mark": {"type": "text", "align": "left", "baseline": "alphabetic", "font": "Liberation Sans", "fontSize": 16, "fontWeight": "bold", "color": "black"},
 "encoding": {"y": {"field": "y", "type": "quantitative"}, "text": {"field": "label"}}}
]
}
